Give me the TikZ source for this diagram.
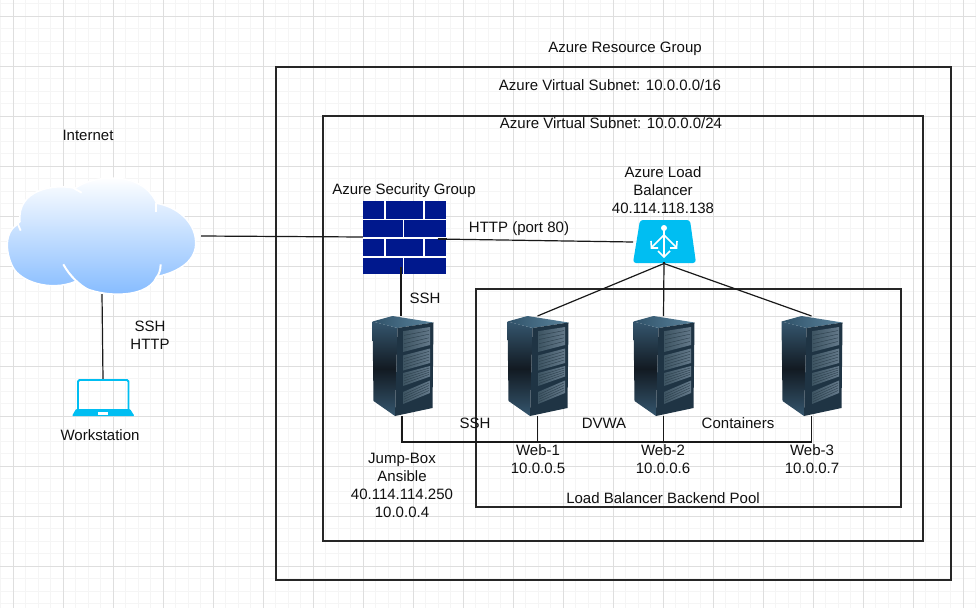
\documentclass[tikz,border=0pt]{standalone}
\usepackage{fontspec}
\setmainfont{Liberation Sans}
\definecolor{azurecyan}{HTML}{00BEF2}
\definecolor{wallblue}{HTML}{00188D}
\definecolor{gridmajor}{HTML}{DEDEDE}
\definecolor{gridminor}{HTML}{F5F5F5}
\definecolor{inktext}{HTML}{101010}
\definecolor{HeadL}{HTML}{2F5168}
\definecolor{HeadR}{HTML}{5C859E}
\definecolor{FrameC}{HTML}{1F3444}
\definecolor{DrawerA}{HTML}{3D5462}
\definecolor{DrawerB}{HTML}{64798A}
\definecolor{DrawerL}{HTML}{2C3F4C}
\definecolor{SideEnd}{HTML}{35566E}
\definecolor{SideMid}{HTML}{121A22}
\definecolor{CloudLow}{HTML}{7FB8FF}
\tikzset{
  label text/.style={inner sep=0pt,align=center,text=inktext,font=\fontsize{15}{18}\selectfont},
  zone/.style={draw=black!85,line width=1.2pt},
  link/.style={draw=black!90,line width=1.2pt},
  icon box/.style={inner sep=0pt,outer sep=0pt,minimum width=#1},
  brick/.style={fill=wallblue,draw=none},
}
\newcommand{\rackicon}[1]{%
  \begin{scope}[shift={(#1.center)}]
    \shade[top color=SideEnd,bottom color=SideEnd,middle color=SideMid] (-30,-44.5) -- (-5,-38) -- (-7.5,50) -- (-29,35) -- cycle;
    \shade[left color=HeadL,right color=HeadR] (-30,-44.5) -- (-10,-50) -- (31,-43.5) -- (-5,-38) -- cycle;
    \fill[FrameC] (-5,-38) -- (31,-43.5) -- (30,42) -- (-7.5,50) -- cycle;
    \foreach \lt/\lb/\rt/\rb in {-34.8/-14/-39/-21,-10.5/4.5/-17.5/-3,7/20/0/10.5,26/38/14.5/27}{
      \shade[left color=DrawerA,right color=DrawerB] (0.5,\lt) -- (27.5,\rt) -- (27.5,\rb) -- (0.5,\lb) -- cycle;
      \foreach \f in {0.2,0.4,0.6,0.8}{
        \draw[DrawerL,line width=0.4pt] (1.5,{\lt+\f*(\lb-\lt)}) -- (26.5,{\rt+\f*(\rb-\rt)});
      }
    }
  \end{scope}}
\begin{document}
\begin{tikzpicture}[x=1pt,y=-1pt]
\useasboundingbox (0,0) rectangle (976,608);
\fill[white] (0,0) rectangle (976,608);
% grid
\foreach \i in {0,...,78} \draw[gridminor,line width=1pt] (0.5+12.5*\i,0) -- (0.5+12.5*\i,608);
\foreach \i in {0,...,48} \draw[gridminor,line width=1pt] (0,3.5+12.5*\i) -- (976,3.5+12.5*\i);
\foreach \i in {0,...,19} \draw[gridmajor,line width=1pt] (13+50*\i,0) -- (13+50*\i,608);
\foreach \i in {0,...,11} \draw[gridmajor,line width=1pt] (0,16+50*\i) -- (976,16+50*\i);
% zones
\node[zone,inner sep=0pt,minimum width=675pt,minimum height=513pt] (rg) at (613.5,323.5) {};
\node[zone,inner sep=0pt,minimum width=600pt,minimum height=425pt] (vnet) at (623,328.5) {};
\node[zone,inner sep=0pt,minimum width=425pt,minimum height=218pt] (pool) at (688.5,398) {};
% icon anchors
\node[icon box=188pt,minimum height=116pt] (cloud) at (102,236) {};
\node[icon box=82pt,minimum height=72pt] (wall) at (404.5,237) {};
\node[icon box=62pt,minimum height=43pt] (lb) at (664,242) {};
\node[icon box=62pt,minimum height=37pt] (laptop) at (103,397.5) {};
\node[icon box=61pt,minimum height=100pt] (jump) at (402.5,366) {};
\node[icon box=61pt,minimum height=100pt] (web1) at (537.5,366) {};
\node[icon box=61pt,minimum height=100pt] (web2) at (663.5,366) {};
\node[icon box=61pt,minimum height=100pt] (web3) at (811.5,366) {};
\coordinate (bus) at (402,442);
% connectors under icons
\draw[link] ([xshift=5pt]cloud.east) -- (wall.west);
\draw[link] ([xshift=-8pt,yshift=-2pt]wall.east) -- (lb.west);
\draw[link] (cloud.south) -- (laptop.north);
\draw[link] (wall.south -| 401,267) -- (jump.north -| 401,316);
\draw[link] (lb.south) -- (web1.north);
\draw[link] (lb.south) -- (web2.north);
\draw[link] (lb.south) -- (web3.north);
\draw[link] (jump.south -| bus) -- (bus) -- (bus -| web3.south) -- (web3.south);
\draw[link] (bus -| web1.south) -- (web1.south);
\draw[link] (bus -| web2.south) -- (web2.south);
% cloud
\begin{scope}[shift={(0,160)},scale=0.33333]
  \path[draw=white,line width=1.5pt,top color=white,bottom color=CloudLow]
    (50,195) .. controls (15,215) and (15,275) .. (38,320)
    .. controls (60,365) and (150,395) .. (225,365)
    .. controls (270,410) and (440,425) .. (470,350)
    .. controls (540,335) and (590,300) .. (587,245)
    .. controls (585,185) and (530,140) .. (470,130)
    .. controls (445,70) and (380,50) .. (320,55)
    .. controls (280,57) and (245,70) .. (225,85)
    .. controls (160,70) and (50,90) .. (60,185)
    .. controls (58,190) and (55,193) .. (50,195) -- cycle;
  \draw[white,line width=1.8pt] (52,188) -- (62,212);
  \draw[white,line width=1.8pt] (222,85) -- (245,98);
  \draw[white,line width=1.8pt] (468,130) -- (468,157);
  \draw[white,line width=2pt] (190,313) .. controls (210,350) and (240,375) .. (262,388);
  \draw[white,line width=2pt] (482,313) .. controls (482,330) and (476,345) .. (470,352);
\end{scope}
% firewall
\fill[white] (363,201) rectangle (446,274);
\foreach \ya/\yb in {200.8/219,238.6/256.4}{
  \fill[brick] (363.3,\ya) rectangle (384.4,\yb);
  \fill[brick] (386,\ya) rectangle (423,\yb);
  \fill[brick] (424.6,\ya) rectangle (445.7,\yb);
}
\foreach \ya/\yb in {220.4/237.2,257.8/273.6}{
  \fill[brick] (363.3,\ya) rectangle (402.6,\yb);
  \fill[brick] (404.2,\ya) rectangle (445.7,\yb);
}
\draw[link] ([xshift=-8pt,yshift=-2pt]wall.east) -- ([xshift=1pt,yshift=-2pt]wall.east);
\draw[link] (401,267) -- (401,274);
% load balancer
\fill[azurecyan,rounded corners=3pt] (640,220) -- (690,220) -- (696,263) -- (633,263) -- cycle;
\begin{scope}[white,line width=1.6pt]
  \fill (664,228) circle (3pt);
  \draw (664,228) -- (664,256);
  \draw (664,235) -- (652,247);
  \draw (664,235) -- (676,247);
  \draw (651,241) -- (651.5,248) -- (658,248);
  \draw (677,241) -- (676.5,248) -- (670,248);
  \draw (658,251) -- (664,257) -- (670,251);
\end{scope}
\draw[link] ([yshift=2pt]lb.south) -- (lb.south);
% laptop
\draw[azurecyan,line width=1.8pt,rounded corners=1.5pt] (78,410) -- (78,380) -- (128.5,380) -- (128.5,410);
\fill[azurecyan,rounded corners=1pt] (76,409) -- (130,409) -- (134.5,416) -- (72,416) -- cycle;
\fill[white] (97.5,412) rectangle (108,414.5);
% racks
\rackicon{jump}
\rackicon{web1}
\rackicon{web2}
\rackicon{web3}
% labels
\node[label text] (tRG) at (625,49) {Azure Resource Group};
\node[label text] (tS16) at (610,85) {Azure Virtual Subnet: 10.0.0.0/16};
\node[label text] (tS24) at (611,123) {Azure Virtual Subnet: 10.0.0.0/24};
\node[label text] (tNet) at (88,135.5) {Internet};
\node[label text] (tSG) at (404,191) {Azure Security Group};
\node[label text] (tLB) at (663,190) {Azure Load\\Balancer\\40.114.118.138};
\node[label text] (tHTTP) at (519,229) {HTTP (port 80)};
\node[label text] (tSSH1) at (425,298) {SSH};
\node[label text] (tClient) at (150,335) {SSH\\HTTP};
\node[label text] (tWS) at (100,435) {Workstation};
\node[label text] (tSSH2) at (475,423.5) {SSH};
\node[label text] (tDVWA) at (604,423.5) {DVWA};
\node[label text] (tCont) at (738,423.5) {Containers};
\node[label text] (tJump) at (402,485.5) {Jump-Box\\Ansible\\40.114.114.250\\10.0.0.4};
\node[label text] (tW1) at (538,459) {Web-1\\10.0.0.5};
\node[label text] (tW2) at (663,459) {Web-2\\10.0.0.6};
\node[label text] (tW3) at (812,459) {Web-3\\10.0.0.7};
\node[label text] (tPool) at (663,498) {Load Balancer Backend Pool};
\end{tikzpicture}
\end{document}
